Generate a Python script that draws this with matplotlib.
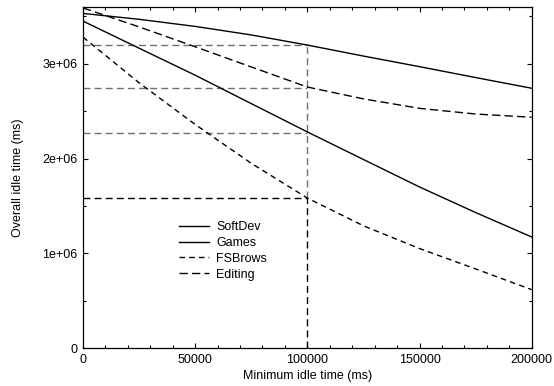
import matplotlib
matplotlib.use("Agg")
import matplotlib.pyplot as plt
from matplotlib.ticker import MultipleLocator

plt.rcParams['font.family'] = ['Liberation Sans', 'DejaVu Sans']

# minimum idle time (ms)
x = [0, 25000, 50000, 75000, 100000, 125000, 150000, 175000, 200000]

# overall idle time (ms)
softdev = [3.532e6, 3.470e6, 3.395e6, 3.305e6, 3.198e6, 3.082e6, 2.970e6, 2.855e6, 2.742e6]
games = [3.451e6, 3.165e6, 2.880e6, 2.580e6, 2.281e6, 1.990e6, 1.700e6, 1.430e6, 1.172e6]
fsbrows = [3.282e6, 2.800e6, 2.360e6, 1.950e6, 1.583e6, 1.290e6, 1.050e6, 0.835e6, 0.616e6]
editing = [3.590e6, 3.390e6, 3.180e6, 2.967e6, 2.755e6, 2.630e6, 2.530e6, 2.470e6, 2.436e6]

# drop lines at the 100000 ms threshold
cut_x = 100000
cut_levels = [3.198e6, 2.745e6, 2.274e6, 1.583e6]

fig = plt.figure(figsize=(5.54, 3.86), dpi=100)
ax = fig.add_axes([0.1498, 0.0984, 0.81, 0.8835])

gray = '#707070'
for i, lev in enumerate(cut_levels):
    c = 'black' if i == len(cut_levels) - 1 else gray
    ax.plot([0, cut_x], [lev, lev], color=c, lw=1.0, ls=(0, (5, 3)))
ax.plot([cut_x, cut_x], [cut_levels[-1], cut_levels[0]], color=gray, lw=1.0, ls=(0, (5, 3)))
ax.plot([cut_x, cut_x], [0, cut_levels[-1]], color='black', lw=1.0, ls=(0, (5, 3)))

ax.plot(x, softdev, color='black', lw=1.0, label='SoftDev')
ax.plot(x, games, color='black', lw=1.0, label='Games')
ax.plot(x, fsbrows, color='black', lw=1.0, ls=(0, (4, 3)), label='FSBrows')
ax.plot(x, editing, color='black', lw=1.0, ls=(0, (6, 3)), label='Editing')

ax.set_xlim(0, 200000)
ax.set_ylim(0, 3.6e6)
ax.xaxis.set_minor_locator(MultipleLocator(10000))
ax.yaxis.set_minor_locator(MultipleLocator(5e5))
ax.set_xticks([0, 50000, 100000, 150000, 200000])
ax.set_xticklabels(['0', '50000', '100000', '150000', '200000'])
ax.set_yticks([0, 1e6, 2e6, 3e6])
ax.set_yticklabels(['0', '1e+06', '2e+06', '3e+06'])
ax.tick_params(which='both', direction='in', top=True, right=True, labelsize=9)
ax.tick_params(axis='x', pad=4)
ax.tick_params(axis='y', pad=4)
ax.tick_params(which='major', length=3.5, width=0.8)
ax.tick_params(which='minor', length=2, width=0.8)
for s in ax.spines.values():
    s.set_linewidth(0.9)

ax.set_xlabel('Minimum idle time (ms)', fontsize=9, labelpad=3)
ax.set_ylabel('Overall idle time (ms)', fontsize=9, labelpad=13)

ax.legend(loc='upper left', bbox_to_anchor=(0.2, 0.39), frameon=False, fontsize=9,
          handlelength=2.4, handletextpad=0.6, labelspacing=0.3, borderpad=0)

fig.savefig('out.png', dpi=100)
